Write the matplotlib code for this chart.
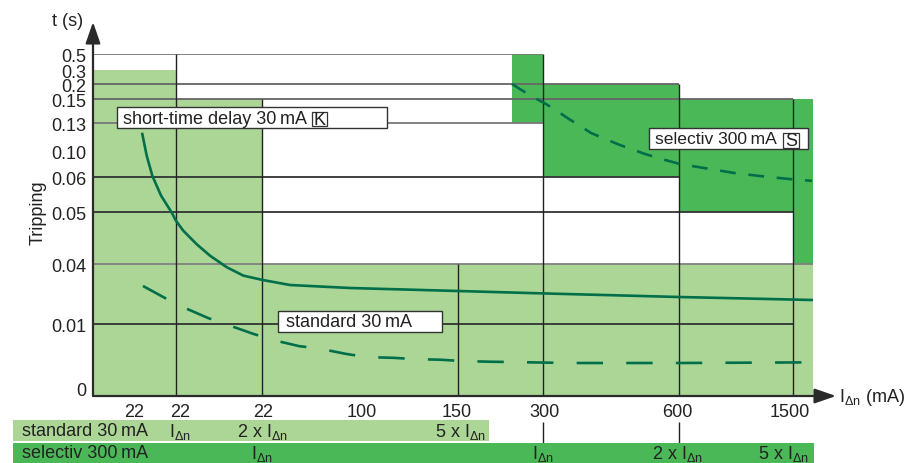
"""
Tripping time bands of 30 mA / 300 mA residual current devices.
"""

import matplotlib

matplotlib.use("Agg")
import matplotlib.pyplot as plt
import numpy as np
from matplotlib import transforms
from matplotlib.patches import Rectangle

plt.rcParams.update(
    {
        "font.family": ["Liberation Sans", "DejaVu Sans"],
        "font.size": 13,
        "mathtext.fontset": "custom",
        "mathtext.rm": "Liberation Sans",
        "text.color": "#222222",
        "xtick.color": "#222222",
        "ytick.color": "#222222",
    }
)

LIGHT = "#acd696"
DARK = "#4bb857"
CURVE = "#006f4a"
IDN = r"I$_\mathregular{Δn}$"

# y axis: tick values and their height above the x axis (the scale is not linear)
Y_TICKS = [0, 0.01, 0.04, 0.05, 0.06, 0.10, 0.13, 0.15, 0.2, 0.3, 0.5]
Y_TICK_LABELS = ["0", "0.01", "0.04", "0.05", "0.06", "0.10", "0.13", "0.15", "0.2", "0.3", "0.5"]
Y_TICK_HEIGHT = [7, 72, 132, 184, 219, 245, 273, 297, 312, 326, 342]

# x axis: schematic current axis
X_TICKS = [41.5, 87, 170.5, 269, 363.5, 451, 584.5, 697]
X_TICK_LABELS = ["22", "22", "22", "100", "150", "300", "600", "1500"]
X_MAX = 720

# tripping zones
STD_ZONE_LEFT = [0, 83, 169]
STD_ZONE_RIGHT = [83, 169, 720]
STD_ZONE_TOP = [0.3, 0.15, 0.04]

SEL_ZONE_LEFT = [419, 450, 586, 700]
SEL_ZONE_RIGHT = [450, 586, 700, 720]
SEL_ZONE_BOTTOM = [0.13, 0.06, 0.05, 0.04]
SEL_ZONE_TOP = [0.5, 0.2, 0.15, 0.15]

# grid
H_LINES = [0.5, 0.2, 0.15, 0.13, 0.06, 0.05, 0.04, 0.01]
H_LINES_END = [450, 586, 700, 450, 586, 700, 720, 700]
H_LINES_COLOR = ["#777777", "#666666", "#666666", "#777777", "#333333", "#333333", "#808080", "#333333"]
V_LINES = [83, 169, 365, 450, 586, 700]
V_LINES_TOP = [0.5, 0.15, 0.04, 0.5, 0.2, 0.15]

# curves
SHORT_X = [49.3, 53.7, 59.3, 68, 78.7, 83, 90.3, 103.7, 117, 133.7, 150.3, 169.7, 197, 257, 365, 450, 586, 720]
SHORT_T = [0.1182, 0.0928, 0.062, 0.0547, 0.0499, 0.0483, 0.0464, 0.0438, 0.0416, 0.0384, 0.0342, 0.032,
           0.0295, 0.028, 0.0265, 0.0253, 0.0235, 0.022]

STD_X = [50, 72, 92, 115, 136, 160, 181, 206, 227, 253, 274, 300, 322, 348, 369, 396, 477, 587, 720]
STD_T = [0.029, 0.023, 0.018, 0.013, 0.0098, 0.0085, 0.0075, 0.0066, 0.0062, 0.0054, 0.0049, 0.0048,
         0.0046, 0.0045, 0.0043, 0.0042, 0.0040, 0.0040, 0.0041]

SEL_X = [419, 430, 442, 453, 464, 476, 487, 498, 512, 527, 552, 572, 587, 617, 642, 667, 697, 719]
SEL_T = [0.2, 0.1767, 0.153, 0.1458, 0.14, 0.1333, 0.127, 0.1193, 0.113, 0.1064, 0.0954, 0.0862,
         0.080, 0.0723, 0.066, 0.0615, 0.0594, 0.0589]

W, H = 912, 464


def px(x, y):
    return x / W, 1 - y / H


def piecewise(src, dst):
    src = np.asarray(src, float)
    dst = np.asarray(dst, float)

    def f(v):
        v = np.asarray(v, float)
        out = np.interp(v, src, dst)
        lo = dst[0] + (v - src[0]) * (dst[1] - dst[0]) / (src[1] - src[0])
        hi = dst[-1] + (v - src[-1]) * (dst[-1] - dst[-2]) / (src[-1] - src[-2])
        return np.where(v < src[0], lo, np.where(v > src[-1], hi, out))

    return f


fwd = piecewise(Y_TICKS, Y_TICK_HEIGHT)
inv = piecewise(Y_TICK_HEIGHT, Y_TICKS)

fig = plt.figure(figsize=(W / 100, H / 100), dpi=100)
ax = fig.add_axes([93 / W, (H - 397) / H, 720 / W, 342 / H])
ax.set_yscale("function", functions=(fwd, inv))
y0 = float(inv(0))
ax.set_ylim(y0, 0.5)
ax.set_xlim(0, X_MAX)

# zones
ax.bar(STD_ZONE_LEFT, np.array(STD_ZONE_TOP) - y0, width=np.subtract(STD_ZONE_RIGHT, STD_ZONE_LEFT),
       bottom=y0, align="edge", color=LIGHT, linewidth=0, zorder=1)
ax.bar(SEL_ZONE_LEFT, np.subtract(SEL_ZONE_TOP, SEL_ZONE_BOTTOM), width=np.subtract(SEL_ZONE_RIGHT, SEL_ZONE_LEFT),
       bottom=SEL_ZONE_BOTTOM, align="edge", color=DARK, linewidth=0, zorder=1)

# grid
for yv, xe, c in zip(H_LINES, H_LINES_END, H_LINES_COLOR):
    ax.plot([0, xe], [yv, yv], color=c, lw=1.3, zorder=2, solid_capstyle="butt")
ax.vlines(V_LINES, y0, V_LINES_TOP, color="#222222", lw=1.0, zorder=2)

# curves
ax.plot(SHORT_X, SHORT_T, color=CURVE, lw=1.9, zorder=3)
ax.plot(STD_X, STD_T, color=CURVE, lw=1.9, ls=(0, (10, 8.8)), zorder=3)
ax.plot(SEL_X, SEL_T, color=CURVE, lw=1.9, ls=(0, (6, 4.8)), zorder=3)

# axes styling
for s in ax.spines.values():
    s.set_visible(False)
ax.set_yticks(Y_TICKS, Y_TICK_LABELS)
ax.yaxis.set_minor_locator(matplotlib.ticker.NullLocator())
ax.set_xticks(X_TICKS, X_TICK_LABELS)
ax.tick_params(length=0)
ax.tick_params(axis="y", pad=5)
ax.tick_params(axis="x", pad=5)

arrow = dict(arrowstyle="-|>,head_length=1.3,head_width=0.45", color="#2a2a2a", lw=1.6,
             shrinkA=0, shrinkB=0, mutation_scale=10)
ax.annotate("", xy=(0, (397 - 23) / 342), xytext=(0, 0), xycoords="axes fraction",
            arrowprops=arrow, annotation_clip=False)
ax.annotate("", xy=((836 - 93) / 720, 0), xytext=(0, 0), xycoords="axes fraction",
            arrowprops=arrow, annotation_clip=False)

# tick connectors down to the selectiv band
blend = transforms.blended_transform_factory(ax.transData, ax.transAxes)
ax.vlines([450, 586], (397 - 444) / 342, (397 - 423) / 342, transform=blend, color="#222222",
          lw=1.0, clip_on=False)

fig.text(*px(68, 22), "t (s)", ha="center", va="center")
fig.text(*px(38, 213), "Tripping", rotation=90, ha="center", va="center")
fig.text(*px(839, 397), IDN + " (mA)", ha="left", va="center")


def box(x0, y0_, x1, y1, fc="white", ec="#333333", lw=1.0, z=5):
    fig.add_artist(Rectangle(px(x0, y1), (x1 - x0) / W, (y1 - y0_) / H, transform=fig.transFigure,
                             facecolor=fc, edgecolor=ec, linewidth=lw, zorder=z))


# curve labels
box(117, 108, 387, 129)
fig.text(*px(123, 119), "short-time delay 30\u2009mA", ha="left", va="center", zorder=6)
box(312, 113, 327, 127, lw=0.9, z=6)
fig.text(*px(319.5, 120.5), "K", ha="center", va="center", zorder=7)

box(278, 312, 442, 333)
fig.text(*px(286, 323), "standard 30\u2009mA", ha="left", va="center", zorder=6)

box(649, 129, 808, 150)
fig.text(*px(655, 140), "selectiv 300\u2009mA", ha="left", va="center", fontsize=12.6, zorder=6)
box(783, 134, 799, 149, lw=0.9, z=6)
fig.text(*px(791, 141.5), "S", ha="center", va="center", zorder=7)

# bottom bands
box(13, 421, 489, 442, fc=LIGHT, ec="none", lw=0, z=1)
box(13, 444, 814, 464, fc=DARK, ec="none", lw=0, z=1)
fig.text(*px(22, 432), "standard 30\u2009mA", ha="left", va="center")
for xc, lab in zip([180, 262, 460], [IDN, "2 x " + IDN, "5 x " + IDN]):
    fig.text(*px(xc, 432), lab, ha="center", va="center")
fig.text(*px(22, 454), "selectiv 300\u2009mA", ha="left", va="center")
for xc, lab in zip([262, 543, 677, 783], [IDN, IDN, "2 x " + IDN, "5 x " + IDN]):
    fig.text(*px(xc, 454), lab, ha="center", va="center")

fig.savefig("out.png", dpi=100)
